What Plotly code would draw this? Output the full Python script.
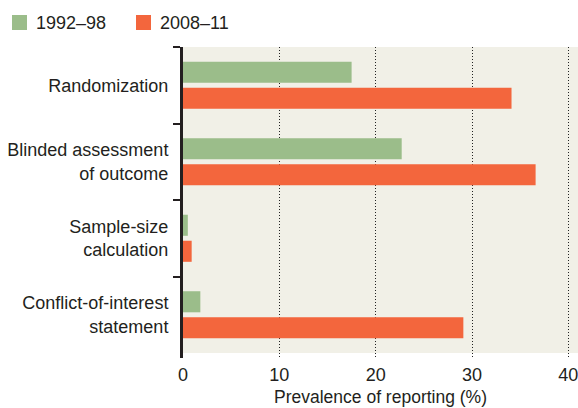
import plotly.graph_objects as go

categories = ["Randomization", "Blinded assessment<br>of outcome", "Sample-size<br>calculation", "Conflict-of-interest<br>statement"]
series_names = ["1992–98", "2008–11"]
values_1992_98 = [17.5, 22.7, 0.5, 1.8]
values_2008_11 = [34.1, 36.6, 0.9, 29.1]
x_ticks = [0, 10, 20, 30, 40]

GREEN = "#9BBD8A"
ORANGE = "#F3663D"
TEXT = "#231F20"
FONT = "Liberation Sans"

W, H = 578, 408
L, R, T, B = 183, 0, 47, 50


def px_x(p):
    return (p - L) / (W - L - R)


def px_y(p):
    return (H - B - p) / (H - T - B)


fig = go.Figure()
fig.add_trace(go.Bar(y=categories, x=values_1992_98, name=series_names[0], orientation="h",
                     marker=dict(color=GREEN, line=dict(width=0))))
fig.add_trace(go.Bar(y=categories, x=values_2008_11, name=series_names[1], orientation="h",
                     marker=dict(color=ORANGE, line=dict(width=0))))

# background panel (ends slightly above the bottom of the plot area)
fig.add_shape(type="rect", xref="paper", yref="y", x0=0, x1=1, y0=-0.5, y1=3.5,
              fillcolor="#F1F0E7", line=dict(width=0), layer="below")

# manual legend
for name, color, sx in [(series_names[0], GREEN, 12), (series_names[1], ORANGE, 136)]:
    fig.add_shape(type="rect", xref="paper", yref="paper",
                  x0=px_x(sx), x1=px_x(sx + 15), y0=px_y(30), y1=px_y(15),
                  fillcolor=color, line=dict(width=0))
    fig.add_annotation(text=name, xref="paper", yref="paper", x=px_x(sx + 22), y=px_y(22.5),
                       xanchor="left", yanchor="middle", showarrow=False,
                       font=dict(size=18, color=TEXT))

fig.update_layout(
    width=W, height=H,
    margin=dict(l=L, r=R, t=T, b=B, autoexpand=False),
    paper_bgcolor="white", plot_bgcolor="white",
    barmode="group", bargap=0.32, bargroupgap=0.19,
    font=dict(family=FONT, size=18, color=TEXT),
    showlegend=False,
    xaxis=dict(range=[0, 41], tickvals=x_ticks, showgrid=True, gridcolor="#222222",
               griddash="1px,2px", gridwidth=1, zeroline=False, showline=False,
               ticks="", tickfont=dict(size=18), ticklabelstandoff=4, automargin=False,
               ticklabeloverflow="allow",
               title=dict(text="Prevalence of reporting (%)", font=dict(size=17.5), standoff=6)),
    yaxis=dict(categoryorder="array", categoryarray=categories, range=[3.565, -0.5],
               tickson="boundaries", ticks="outside", ticklen=7, tickcolor=TEXT, tickwidth=1.5,
               showline=True, linecolor=TEXT, linewidth=3, showgrid=False, zeroline=False,
               tickfont=dict(size=18), ticklabelstandoff=8, automargin=False),
)

fig.write_html("out.html", config={"displayModeBar": False},
               post_script="document.body.style.margin='0';")
